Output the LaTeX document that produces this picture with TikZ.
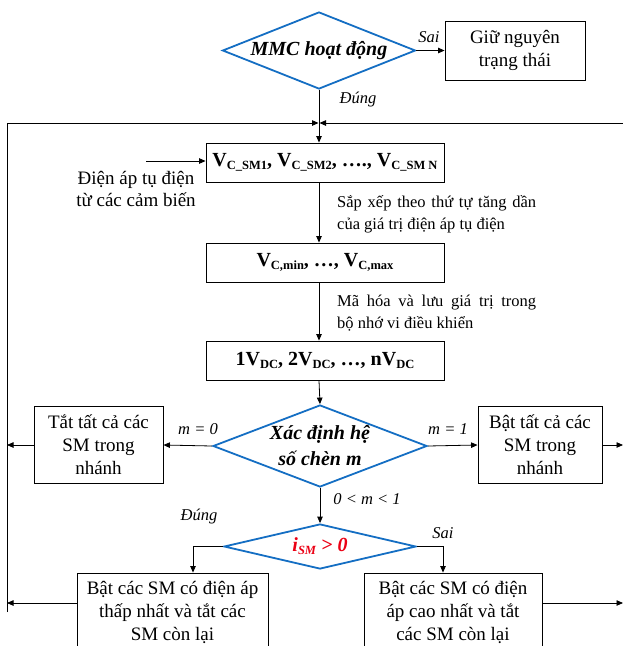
\documentclass[tikz,border=0pt]{standalone}
\usepackage{fontspec}
\setmainfont{Liberation Serif}
\usetikzlibrary{arrows.meta,shapes.geometric}
\definecolor{dblue}{RGB}{20,110,195}
\definecolor{isred}{RGB}{235,0,20}
\newcommand\vsub[1]{\raisebox{-0.35ex}{\fontsize{12.5}{12.5}\selectfont #1}}
\begin{document}
\begin{tikzpicture}[x=1pt,y=-1pt,
  box/.style={draw,line width=0.9pt,align=center,inner sep=0pt,
    font=\fontsize{19}{23}\selectfont},
  vbox/.style={draw,line width=0.9pt,inner sep=0pt,minimum width=238pt,minimum height=39pt,
    font=\fontsize{20}{24}\selectfont\bfseries},
  dec/.style={draw=dblue,line width=1.8pt,shape=diamond,inner sep=0pt},
  dtext/.style={align=center,inner sep=0pt,font=\fontsize{20}{26}\selectfont\bfseries\itshape},
  arr/.style={-{Triangle[length=6.5pt,width=5.5pt]},line width=0.8pt},
  lbl/.style={inner sep=0pt,font=\fontsize{16.5}{20}\selectfont\itshape},
  note/.style={inner sep=0pt,align=left,anchor=west,font=\fontsize{16.5}{22}\selectfont},
]
\useasboundingbox (0,0) rectangle (623,646);
\clip (0,0) rectangle (623,646);

% decisions
\node[dec,minimum width=193pt,minimum height=77pt] (d1) at (319,50.5) {};
\node[dtext] (d1t) at (d1.center) {MMC hoạt động};
\node[box,minimum width=140pt,minimum height=59pt] (giu) at (515,50.5) {Giữ nguyên\\trạng thái};

\coordinate (merge) at (319,123);
\coordinate (L1) at (7,123);
\coordinate (R1) at (623,123);

% value boxes
\node[vbox] (b1) at (325,162.5) {V\vsub{C\_SM1}, V\vsub{C\_SM2}, …., V\vsub{C\_SM N}};
\node[vbox] (b2) at (325,262.5) {V\vsub{C,min}, …, V\vsub{C,max}};
\node[vbox] (b3) at (325,360.5) {1V\vsub{DC}, 2V\vsub{DC}, …, nV\vsub{DC}};

\coordinate (inp) at (146,161);
\node[inner sep=0pt,align=center,font=\fontsize{19}{22}\selectfont] (inptxt) at (136,189) {Điện áp tụ điện\\từ các cảm biến};

\node[note] (n1) at (337,214) {\makebox[199pt][s]{Sắp xếp theo thứ tự tăng dần}\\của giá trị điện áp tụ điện};
\node[note] (n2) at (337,313) {\makebox[199pt][s]{Mã hóa và lưu giá trị trong}\\bộ nhớ vi điều khiển};

% insertion factor
\node[dec,minimum width=214pt,minimum height=82pt] (d2) at (320,446) {};
\node[dtext] (d2t) at (d2.center) {Xác định hệ\\số chèn m};
\node[box,minimum width=129pt,minimum height=77pt] (tl) at (98.5,445) {Tắt tất cả các\\SM trong\\nhánh};
\node[box,minimum width=124pt,minimum height=77pt] (tr) at (540,445) {Bật tất cả các\\SM trong\\nhánh};

% current sign
\node[dec,minimum width=192pt,minimum height=45pt] (d3) at (320,546.5) {};
\node[inner sep=0pt,font=\fontsize{20}{24}\selectfont\bfseries\itshape,text=isred] (d3t) at (d3.center) {i\vsub{SM} > 0};
\node[box,minimum width=191pt,minimum height=78pt] (bl) at (172.5,612) {Bật các SM có điện áp\\thấp nhất và tắt các\\SM còn lại};
\node[box,minimum width=178pt,minimum height=78pt] (br) at (453,612) {Bật các SM có điện\\áp cao nhất và tắt\\các SM còn lại};

% connectors
\draw[arr] (d1.east) -- (giu.west);
\draw[arr] (d1.south) -- (d1.south |- b1.north);
\draw[arr] (L1 |- bl.west) -- (L1) -- ([xshift=-0.5pt]merge);
\draw[arr] (R1) -- ([xshift=0.5pt]merge);
\draw[arr] (inp) -- (inp -| b1.west);
\draw[arr] (merge |- b1.south) -- (merge |- b2.north);
\draw[arr] (merge |- b2.south) -- (merge |- b3.north);
\draw[arr] (merge |- b3.south) -- (d2.north);
\draw[arr] (d2.west) -- (tl.east);
\draw[arr] (d2.east) -- (tr.east -| tr.west);
\draw[arr] (tl.west) -- (tl.west -| L1);
\draw[arr] (tr.east) -- (tr.east -| R1);
\draw[arr] (d2.south) -- (d3.north);
\draw[arr] (d3.west) -| ([xshift=20.5pt]bl.north);
\draw[arr] (d3.east) -| ([xshift=-10pt]br.north);
\draw[arr] (bl.west |- 0,603) -- (L1 |- 0,603);
\draw[arr] (br.east |- 0,603) -- (R1 |- 0,603);

% labels
\node[lbl] (sai1) at (429,37) {Sai};
\node[lbl] (dung1) at (358,100) {Đúng};
\node[lbl] (m0) at (198,429) {m = 0};
\node[lbl] (m1) at (448,429) {m = 1};
\node[lbl] (mm) at (367,499) {0 < m < 1};
\node[lbl] (dung2) at (199,517) {Đúng};
\node[lbl] (sai2) at (443,533) {Sai};
\end{tikzpicture}
\end{document}
